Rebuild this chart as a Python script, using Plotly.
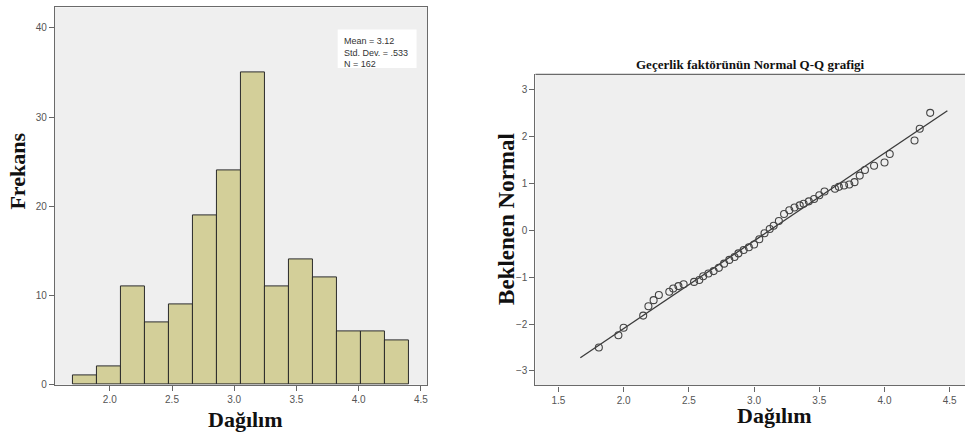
import plotly.graph_objects as go

# ---------------- data ----------------
# Histogram (left)
bin_edges = [1.706, 1.899, 2.092, 2.285, 2.478, 2.671, 2.864, 3.057,
             3.250, 3.443, 3.636, 3.829, 4.022, 4.215, 4.408]
counts = [1, 2, 11, 7, 9, 19, 24, 35, 11, 14, 12, 6, 6, 5]
hist_xticks = [2.0, 2.5, 3.0, 3.5, 4.0, 4.5]
hist_xticktext = ["2.0", "2.5", "3.0", "3.5", "4.0", "4.5"]
hist_yticks = [0, 10, 20, 30, 40]
stats_lines = ["Mean = 3.12", "Std. Dev. = .533", "N = 162"]

# Normal Q-Q plot (right)
qq_x = [1.81, 1.96, 2.00, 2.15, 2.19, 2.23, 2.27, 2.35, 2.38, 2.42, 2.46,
        2.54, 2.58, 2.61, 2.65, 2.69, 2.73, 2.77, 2.81, 2.85, 2.88, 2.92,
        2.96, 3.00, 3.04, 3.08, 3.12, 3.15, 3.19, 3.23, 3.27, 3.31, 3.35,
        3.38, 3.42, 3.46, 3.50, 3.54, 3.62, 3.65, 3.69, 3.73, 3.77, 3.81,
        3.85, 3.92, 4.00, 4.04, 4.23, 4.27, 4.35]
qq_y = [-2.50, -2.24, -2.08, -1.82, -1.62, -1.49, -1.38, -1.31, -1.24, -1.19,
        -1.15, -1.10, -1.06, -0.98, -0.92, -0.87, -0.80, -0.71, -0.63, -0.57,
        -0.49, -0.42, -0.36, -0.30, -0.19, -0.06, 0.03, 0.10, 0.20, 0.35,
        0.43, 0.49, 0.535, 0.57, 0.62, 0.67, 0.75, 0.83, 0.89, 0.93, 0.96,
        0.98, 1.03, 1.17, 1.29, 1.38, 1.45, 1.63, 1.92, 2.17, 2.51]
line_x = [1.668, 4.482]
line_y = [-2.72, 2.555]
qq_xticks = [1.5, 2.0, 2.5, 3.0, 3.5, 4.0, 4.5]
qq_xticktext = ["1.5", "2.0", "2.5", "3.0", "3.5", "4.0", "4.5"]
qq_yticks = [-3, -2, -1, 0, 1, 2, 3]

title_qq = "Geçerlik faktörünün Normal Q-Q grafigi"
label_freq = "Frekans"
label_dist = "Dağılım"
label_expected = "Beklenen Normal"

# ---------------- figure ----------------
W, H = 966, 439
def px(x):
    return min(1.0, max(0.0, x / W))
def py(y):
    return min(1.0, max(0.0, 1 - y / H))

centers = [(bin_edges[i] + bin_edges[i + 1]) / 2 for i in range(len(counts))]
widths = [bin_edges[i + 1] - bin_edges[i] for i in range(len(counts))]

fig = go.Figure()
fig.add_trace(go.Bar(
    x=centers, y=counts, width=widths,
    marker=dict(color="#D3CF99", line=dict(color="#2b2b2b", width=1)),
    xaxis="x", yaxis="y", showlegend=False, hoverinfo="x+y"))

fig.add_trace(go.Scatter(
    x=line_x, y=line_y, mode="lines",
    line=dict(color="#3a3a3a", width=1.3),
    xaxis="x2", yaxis="y2", showlegend=False))
fig.add_trace(go.Scatter(
    x=qq_x, y=qq_y, mode="markers",
    marker=dict(symbol="circle-open", size=7, color="#444444",
                line=dict(width=1.1, color="#444444")),
    xaxis="x2", yaxis="y2", showlegend=False))

tickfont = dict(family="Liberation Sans, Arial", size=10, color="#555555")
axis_common = dict(showgrid=False, zeroline=False, ticks="outside", ticklen=5,
                   tickwidth=1, tickcolor="#666666", tickfont=tickfont,
                   showline=True, linecolor="#6a6a6a", linewidth=1.3)

fig.update_layout(
    width=W, height=H,
    margin=dict(l=0, r=0, t=0, b=0),
    paper_bgcolor="white",
    plot_bgcolor="#EFEFEF",
    bargap=0,
    xaxis=dict(domain=[px(55), px(427.5)], range=[1.559, 4.55],
               tickvals=hist_xticks, ticktext=hist_xticktext,
               anchor="y", mirror=True, **axis_common),
    yaxis=dict(domain=[py(390), py(7.5)], range=[0, 42.3],
               tickvals=hist_yticks, anchor="x", mirror=True, **axis_common),
    xaxis2=dict(domain=[px(536), 1.0], range=[1.324, 4.617],
                tickvals=qq_xticks, ticktext=qq_xticktext,
                anchor="y2", **axis_common),
    yaxis2=dict(domain=[py(390.7), py(75.5)], range=[-3.31, 3.33],
                tickvals=qq_yticks, anchor="x2", **axis_common),
)

# top border of the Q-Q frame
fig.add_shape(type="line", xref="paper", yref="paper",
              x0=px(536), x1=1.0, y0=py(75.5), y1=py(75.5),
              line=dict(color="#6a6a6a", width=1.3))

# stats box
fig.add_shape(type="rect", xref="paper", yref="paper",
              x0=px(338), x1=px(417), y0=py(69), y1=py(30),
              fillcolor="white", line=dict(width=0), layer="above")
fig.add_annotation(xref="paper", yref="paper", x=px(342), y=py(34),
                   xanchor="left", yanchor="top", align="left",
                   text="<br>".join(stats_lines), showarrow=False,
                   font=dict(family="Liberation Sans, Arial", size=9, color="#333333"))

serif_bold = dict(family="Liberation Serif, Times New Roman", color="#111111")
fig.add_annotation(xref="paper", yref="paper", x=px(17.5), y=py(173.5),
                   text=label_freq, textangle=-90, showarrow=False,
                   xanchor="center", yanchor="middle",
                   font=dict(size=22, weight=700, **serif_bold))
fig.add_annotation(xref="paper", yref="paper", x=px(246), y=py(425),
                   text=label_dist, showarrow=False,
                   xanchor="center", yanchor="middle",
                   font=dict(size=22, weight=700, **serif_bold))
fig.add_annotation(xref="paper", yref="paper", x=px(507.5), y=py(222),
                   text=label_expected, textangle=-90, showarrow=False,
                   xanchor="center", yanchor="middle",
                   font=dict(size=23, weight=700, **serif_bold))
fig.add_annotation(xref="paper", yref="paper", x=px(775), y=py(421),
                   text=label_dist, showarrow=False,
                   xanchor="center", yanchor="middle",
                   font=dict(size=22, weight=700, **serif_bold))
fig.add_annotation(xref="paper", yref="paper", x=px(751.5), y=py(65),
                   text=title_qq, showarrow=False,
                   xanchor="center", yanchor="middle",
                   font=dict(size=13, weight=700, **serif_bold))

page_css = (
    "var s=document.createElement('style');"
    "s.textContent='html,body{margin:0;padding:0;overflow:hidden;"
    "width:966px;height:439px;} .plotly-graph-div{display:block;}';"
    "document.head.appendChild(s);"
)
fig.write_html("out.html", post_script=page_css,
               config={"displayModeBar": False, "responsive": False})
